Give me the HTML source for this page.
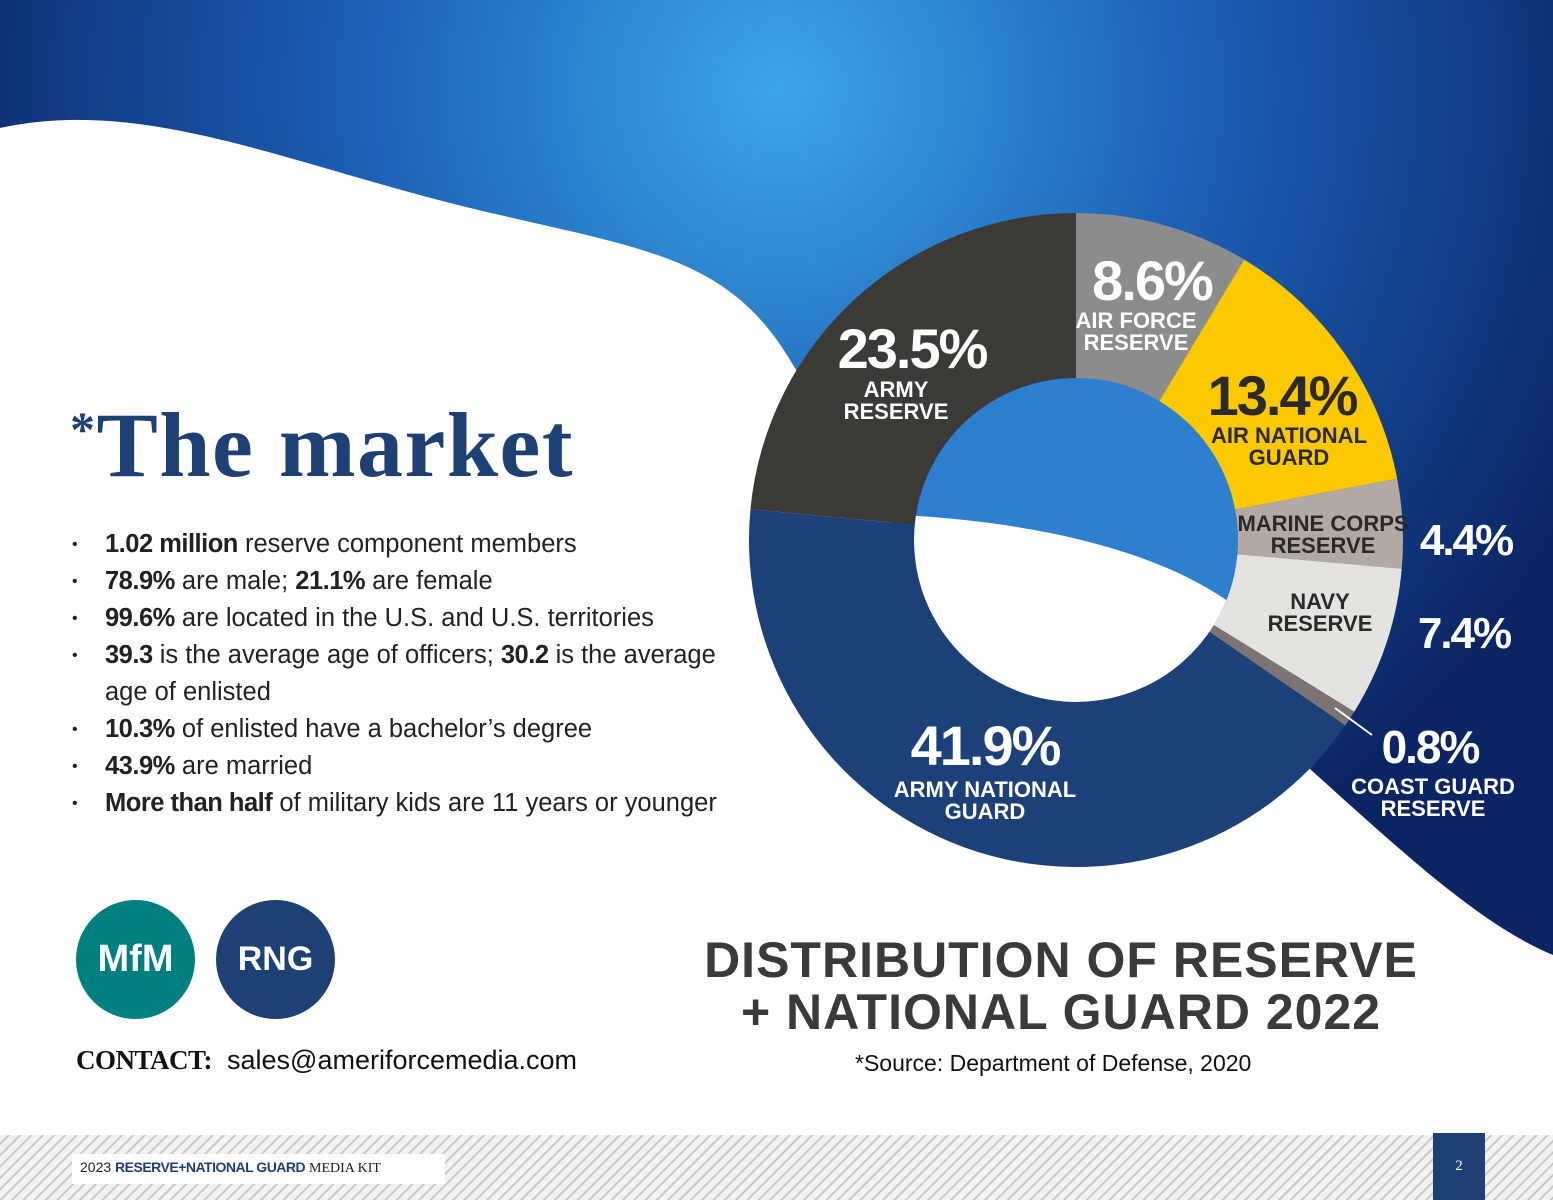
<!DOCTYPE html>
<html><head><meta charset="utf-8"><style>
body{margin:0;width:1553px;height:1200px;overflow:hidden;font-family:"Liberation Sans",sans-serif;background:#fff}
svg{position:absolute;left:0;top:0}
.t{position:absolute;white-space:nowrap}
ul{position:absolute;left:72px;top:526px;margin:0;padding:0;list-style:none;font-size:25.5px;color:#222;line-height:37px;width:660px}
li{padding-left:33px;position:relative}
li:before{content:"•";position:absolute;left:0;font-size:16px}
b{font-family:"Liberation Sans Narrow","Liberation Sans",sans-serif;letter-spacing:-0.5px}
</style></head><body>
<svg width="1553" height="1200">
<defs>
<radialGradient id="bg" cx="780" cy="90" r="900" gradientUnits="userSpaceOnUse">
<stop offset="0" stop-color="#3ea6e6"/><stop offset="0.45" stop-color="#1d62b8"/><stop offset="1" stop-color="#0b2463"/></radialGradient>
<pattern id="hatch" width="8" height="8" patternUnits="userSpaceOnUse" patternTransform="rotate(45)">
<rect width="8" height="8" fill="#f2f2f2"/><rect width="2" height="8" fill="#c9c9c9"/></pattern>
</defs>
<rect width="1553" height="1200" fill="url(#bg)"/>
<path d="M0,128 C150,95 300,170 500,215 C650,250 730,260 790,360 L1000,700 L1300,760 C1400,850 1480,925 1553,955 L1553,1200 L0,1200 Z" fill="#fff"/>
<rect x="0" y="1135" width="1553" height="65" fill="url(#hatch)"/>
<rect x="72" y="1154" width="373" height="30" fill="#fff"/>
<rect x="1433" y="1133" width="52" height="67" fill="#1e4175"/>
<text x="1459" y="1170" font-size="15" fill="#fff" text-anchor="middle" font-family="Liberation Serif">2</text>
<g id="donut"></g>
</svg>

<div class="t" style="left:70px;top:392px;font-family:'Liberation Serif',serif;font-weight:bold;font-size:92px;color:#1e4175;letter-spacing:1.5px"><span style="font-size:50px;vertical-align:30px">*</span>The market</div>
<ul>
<li><b>1.02 million</b> reserve component members</li>
<li><b>78.9%</b> are male; <b>21.1%</b> are female</li>
<li><b>99.6%</b> are located in the U.S. and U.S. territories</li>
<li><b>39.3</b> is the average age of officers; <b>30.2</b> is the average age of enlisted</li>
<li><b>10.3%</b> of enlisted have a bachelor’s degree</li>
<li><b>43.9%</b> are married</li>
<li><b>More than half</b> of military kids are 11 years or younger</li>
</ul>
<div class="t" style="left:76px;top:900px;width:119px;height:119px;border-radius:50%;background:#007f80;color:#fff;font-weight:bold;font-size:38px;text-align:center;line-height:119px">MfM</div>
<div class="t" style="left:216px;top:900px;width:119px;height:119px;border-radius:50%;background:#1e4175;color:#fff;font-weight:bold;font-size:34px;text-align:center;line-height:119px">RNG</div>
<div class="t" style="left:76px;top:1045px;font-size:27px;color:#111"><b style="font-family:'Liberation Serif',serif">CONTACT:</b>&nbsp; <span style="font-weight:300">sales@ameriforcemedia.com</span></div>
<div class="t" style="left:80px;top:1159px;font-size:14px;color:#222">2023 <b style="color:#1e4175">RESERVE+NATIONAL GUARD</b> <span style="font-family:'Liberation Serif'">MEDIA KIT</span></div>
<div class="t" style="left:680px;top:934px;width:762px;text-align:center;font-weight:bold;font-size:50px;line-height:52px;color:#3a3a3a;letter-spacing:1px">DISTRIBUTION OF RESERVE<br>+ NATIONAL GUARD 2022</div>
<div class="t" style="left:855px;top:1050px;font-size:23px;color:#111">*Source: Department of Defense, 2020</div>

<script>
const categories=["AIR FORCE RESERVE","AIR NATIONAL GUARD","MARINE CORPS RESERVE","NAVY RESERVE","COAST GUARD RESERVE","ARMY NATIONAL GUARD","ARMY RESERVE"];
const values=[8.6,13.4,4.4,7.4,0.8,41.9,23.5];
const colors=["#8c8c8c","#fcc800","#b3a9a3","#e3e3df","#7c7472","#1c4178","#3c3a37"];
const cx=1076,cy=540,R=327,r=162;
const NS="http://www.w3.org/2000/svg";
const g=document.getElementById('donut');
function pt(a,rad){return [cx+rad*Math.sin(a),cy-rad*Math.cos(a)];}
const hole=document.createElementNS(NS,'circle');
hole.setAttribute('cx',cx);hole.setAttribute('cy',cy);hole.setAttribute('r',r);hole.setAttribute('fill','#2f7fd0');


g.appendChild(hole);
const cp=document.createElementNS(NS,'clipPath');cp.setAttribute('id','hc');
const cc=document.createElementNS(NS,'circle');cc.setAttribute('cx',cx);cc.setAttribute('cy',cy);cc.setAttribute('r',r);cp.appendChild(cc);g.appendChild(cp);
const hw=document.createElementNS(NS,'path');
hw.setAttribute('d','M900,515 C1000,520 1150,540 1240,610 L1240,720 L900,720 Z');hw.setAttribute('fill','#fff');hw.setAttribute('clip-path','url(#hc)');


g.appendChild(hw);
const total=values.reduce((a,b)=>a+b,0);
let acc=0;
values.forEach((v,i)=>{
  const a0=acc/total*2*Math.PI;acc+=v;const a1=acc/total*2*Math.PI;
  const lg=(a1-a0)>Math.PI?1:0;
  const [x0,y0]=pt(a0,R),[x1,y1]=pt(a1,R),[x2,y2]=pt(a1,r),[x3,y3]=pt(a0,r);
  const p=document.createElementNS(NS,'path');
  p.setAttribute('d',`M${x0},${y0} A${R},${R} 0 ${lg} 1 ${x1},${y1} L${x2},${y2} A${r},${r} 0 ${lg} 0 ${x3},${y3} Z`);
  p.setAttribute('fill',colors[i]);
  
  
  g.appendChild(p);
});
const labelPos=[[1152,300,1136,328,"#fff"],[1282,415,1289,443,"#2a2a2a"],[1466,555,1323,531,"#2a2a2a"],[1464,648,1320,609,"#2a2a2a"],[1430,763,1433,794,"#fff"],[985,765,985,797,"#fff"],[912,368,896,397,"#fff"]];
values.forEach((v,i)=>{
  const [px,py,lx,ly,col]=labelPos[i];
  const pc=(i==2||i==3)?"#fff":col;
  const t=document.createElementNS(NS,'text');
  t.setAttribute('x',px);t.setAttribute('y',py);t.setAttribute('text-anchor','middle');
  t.setAttribute('font-family','Liberation Sans Narrow, Liberation Sans, sans-serif');t.setAttribute('font-weight','bold');
  t.setAttribute('font-size',i==2||i==3?44:(i==4?46:56));t.setAttribute('fill',pc);t.setAttribute('letter-spacing','-2');
  t.textContent=v.toFixed(1)+'%';
  
  
  g.appendChild(t);
  const words=categories[i].split(' ');
  const lines=words.length>2?[words.slice(0,words.length-1).join(' '),words[words.length-1]]:(words.length==2?[words[0],words[1]]:words);
  if(i==0){lines[0]="AIR FORCE";lines[1]="RESERVE";}
  if(i==1){lines[0]="AIR NATIONAL";lines[1]="GUARD";}
  if(i==5){lines[0]="ARMY NATIONAL";lines[1]="GUARD";}
  if(i==4){lines[0]="COAST GUARD";lines[1]="RESERVE";}
  lines.forEach((ln,k)=>{
    const c=document.createElementNS(NS,'text');
    c.setAttribute('x',lx);c.setAttribute('y',ly+k*22);c.setAttribute('text-anchor','middle');
    c.setAttribute('font-family','Liberation Sans Narrow, Liberation Sans, sans-serif');c.setAttribute('font-weight','bold');
    c.setAttribute('font-size',22);c.setAttribute('fill',col);
    c.textContent=ln;
    
    
    g.appendChild(c);
  });
});
const ln=document.createElementNS(NS,'line');
ln.setAttribute('x1',1335);ln.setAttribute('y1',708);ln.setAttribute('x2',1372);ln.setAttribute('y2',735);ln.setAttribute('stroke','#fff');ln.setAttribute('stroke-width',2);


g.appendChild(ln);
</script>
</body></html>
